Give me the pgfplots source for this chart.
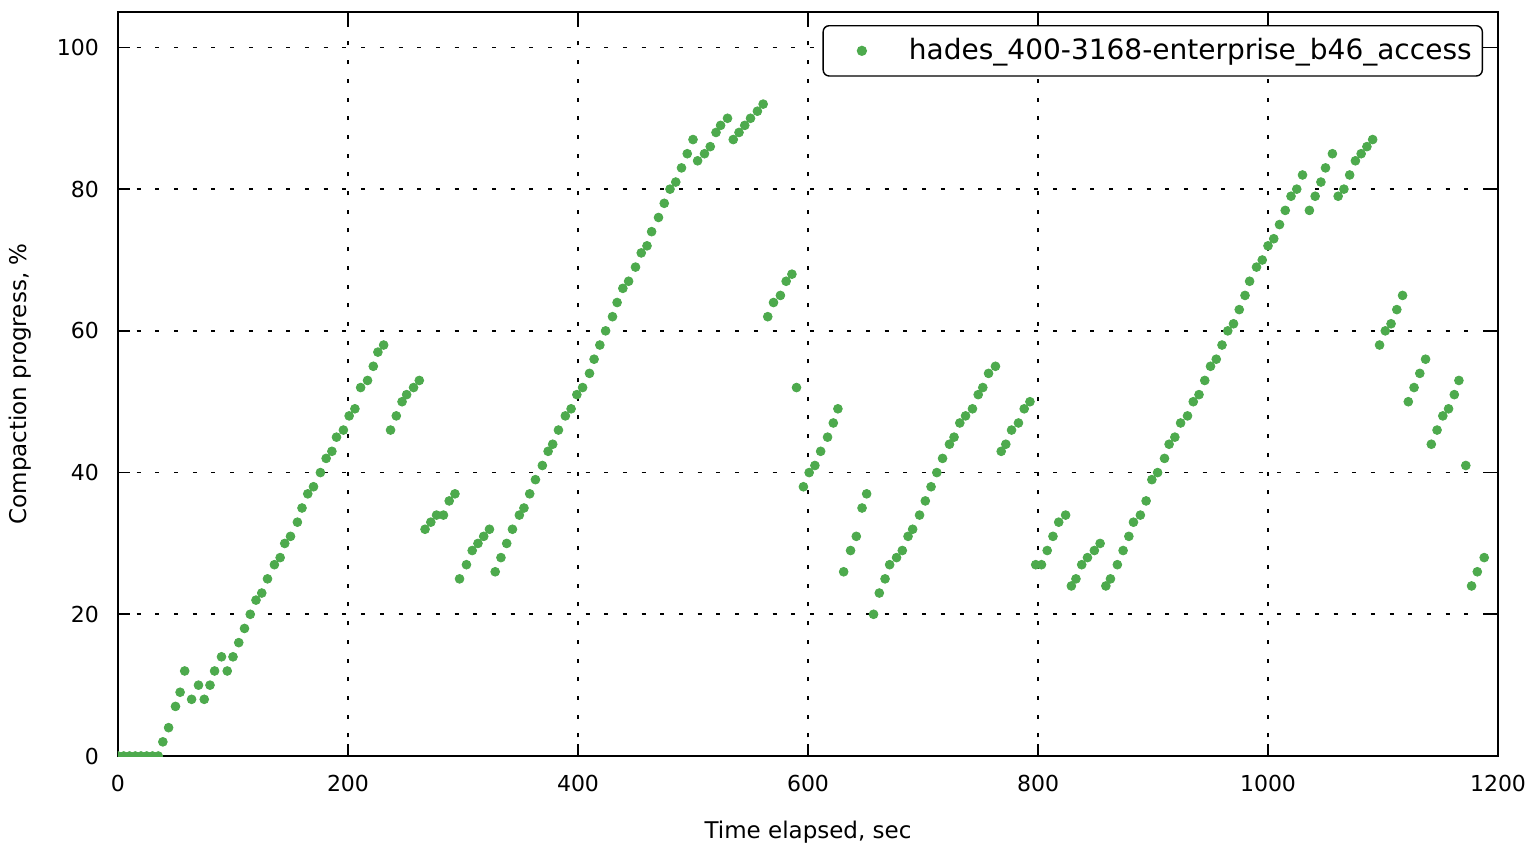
\documentclass[border=0pt]{standalone}
\usepackage{pgfplots}
\pgfplotsset{compat=1.18}
\usepackage{fontspec}
\setmainfont{DejaVu Sans}
\definecolor{ptgreen}{RGB}{77,170,77}
\begin{document}
\begin{tikzpicture}
\path[use as bounding box] (-59pt,-46pt) rectangle (706pt,378pt);
\begin{axis}[
  at={(0,0)}, anchor=south west,
  scale only axis, width=690pt, height=372pt,
  xmin=0, xmax=1200, ymin=0, ymax=105,
  clip marker paths=true,
  xtick={0,200,400,600,800,1000,1200},
  ytick={0,20,40,60,80,100},
  /pgf/number format/assume math mode=true,
  /pgf/number format/set thousands separator={},
  tick label style={font=\fontsize{11}{13}\selectfont},
  xticklabel style={yshift=-6pt},
  yticklabel style={xshift=-6pt},
  tick align=inside,
  major tick length=6pt,
  every tick/.style={black, line width=0.8pt},
  axis line style={black, line width=0.8pt},
  grid=major,
  major grid style={black, line width=0.8pt, dash pattern=on 2pt off 7.35pt},
  xlabel={Time elapsed, sec},
  ylabel={Compaction progress, \%},
  every axis x label/.style={at={(axis description cs:0.5,-0.102)}, anchor=center, font=\fontsize{11.5}{13}\selectfont},
  every axis y label/.style={at={(axis description cs:-0.071,0.5)}, rotate=90, anchor=center, font=\fontsize{11.5}{13}\selectfont},
  legend style={at={(rel axis cs:1,1)}, anchor=north east, xshift=-7.5pt, yshift=-6.5pt,
    draw=black, line width=0.7pt, rounded corners=3pt, font=\fontsize{14}{16}\selectfont,
    inner xsep=3.3pt, inner ysep=4.5pt},
  legend cell align=left,
  legend image code/.code={\path (-15.7pt,0pt) (21.2pt,0pt); \draw[#1] plot coordinates {(0pt,0pt)};},
]
\addplot[only marks, mark=*, mark size=2.2pt, color=ptgreen, mark options={draw=ptgreen, fill=ptgreen}] coordinates {
(0,0) (5,0) (10,0) (15,0) (20,0) (25,0) (30,0) (35,0)
(39,2) (44,4) (50,7) (54,9) (58,12) (64,8) (70,10) (75,8) (80,10) (84,12)
(90,14) (95,12) (100,14) (105,16) (110,18) (115,20) (120,22) (125,23) (130,25)
(136,27) (141,28) (145,30) (150,31) (156,33) (160,35) (165,37) (170,38) (176,40)
(181,42) (186,43) (190,45) (196,46) (201,48) (206,49) (211,52) (217,53) (222,55)
(226,57) (231,58) (237,46) (242,48) (247,50) (251,51) (257,52) (262,53)
(267,32) (272,33) (277,34) (283,34) (288,36) (293,37)
(297,25) (303,27) (308,29) (313,30) (318,31) (323,32)
(328,26) (333,28) (338,30) (343,32) (349,34) (353,35) (358,37) (363,39) (369,41)
(374,43) (378,44) (383,46) (389,48) (394,49) (399,51) (404,52) (410,54) (414,56)
(419,58) (424,60) (430,62) (434,64) (439,66) (444,67) (450,69) (455,71) (460,72)
(464,74) (470,76) (475,78) (480,80) (485,81) (490,83) (495,85) (500,87)
(504,84) (510,85) (515,86) (520,88) (524,89) (530,90)
(535,87) (540,88) (545,89) (550,90) (556,91) (561,92)
(565,62) (570,64) (576,65) (581,67) (586,68) (590,52)
(596,38) (601,40) (606,41) (611,43) (617,45) (622,47) (626,49)
(631,26) (637,29) (642,31) (647,35) (651,37)
(657,20) (662,23) (667,25) (671,27) (677,28) (682,29) (687,31) (691,32) (697,34)
(702,36) (707,38) (712,40) (717,42) (723,44) (727,45) (732,47) (737,48) (743,49)
(748,51) (752,52) (757,54) (763,55)
(768,43) (772,44) (777,46) (783,47) (788,49) (793,50)
(798,27) (803,27) (808,29) (813,31) (818,33) (824,34)
(829,24) (833,25) (838,27) (843,28) (849,29) (854,30)
(859,24) (863,25) (869,27) (874,29) (879,31) (883,33) (889,34) (894,36) (899,39)
(904,40) (910,42) (914,44) (919,45) (924,47) (930,48) (935,50) (940,51) (945,53)
(950,55) (955,56) (960,58) (965,60) (970,61) (975,63) (980,65) (984,67) (990,69)
(995,70) (1000,72) (1005,73) (1010,75) (1015,77) (1020,79) (1025,80) (1030,82)
(1036,77) (1041,79) (1046,81) (1050,83) (1056,85)
(1061,79) (1066,80) (1071,82) (1076,84) (1081,85) (1086,86) (1091,87)
(1097,58) (1102,60) (1107,61) (1112,63) (1117,65)
(1122,50) (1127,52) (1132,54) (1137,56)
(1142,44) (1147,46) (1152,48) (1157,49) (1162,51) (1166,53)
(1172,41) (1177,24) (1182,26) (1188,28)
};
\addlegendentry{hades\_400-3168-enterprise\_b46\_access}
\end{axis}
\end{tikzpicture}
\end{document}
